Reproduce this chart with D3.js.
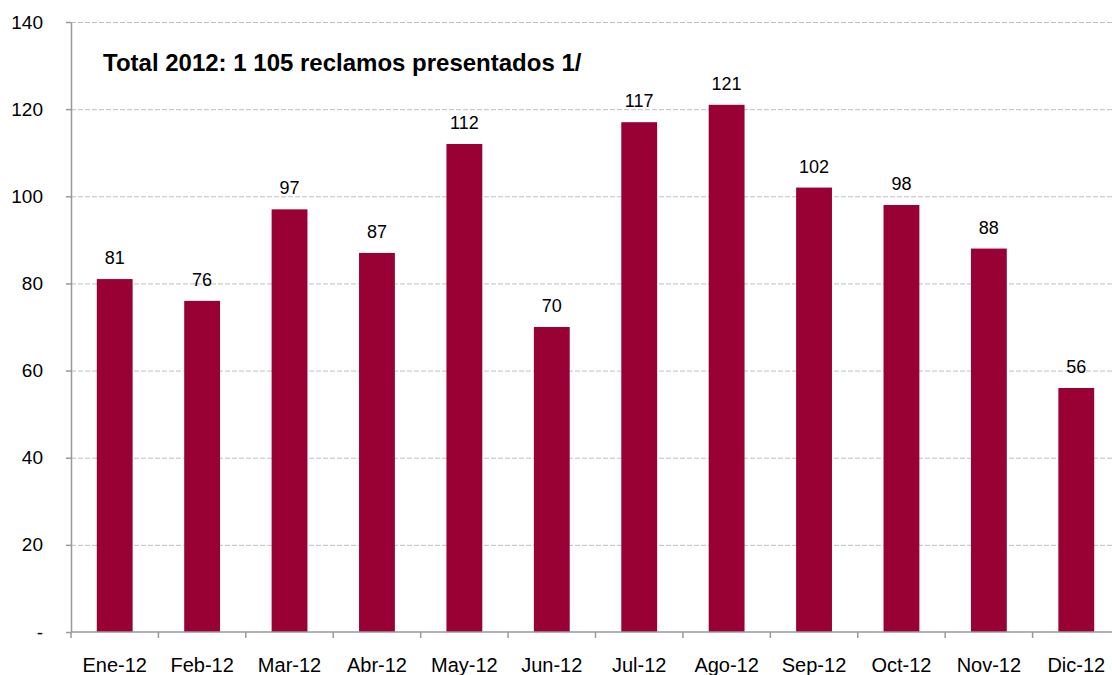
<!DOCTYPE html>
<html>
<head>
<meta charset="utf-8">
<script src="https://cdn.jsdelivr.net/npm/d3@7"></script>
<style>
  body { margin: 0; background: #fff; }
  svg { font-family: "Liberation Sans", Arial, sans-serif; }
  .grid line { stroke: #bfbfbf; stroke-dasharray: 5,2; }
  .grid path { display: none; }
  .axis path, .axis line { stroke: #999; stroke-width: 1.5; }
  .axis text { fill: #000; font-size: 19px; }
</style>
</head>
<body>
<svg width="1112" height="675"></svg>
<script>
var months = ["Ene-12", "Feb-12", "Mar-12", "Abr-12", "May-12", "Jun-12",
              "Jul-12", "Ago-12", "Sep-12", "Oct-12", "Nov-12", "Dic-12"];
var reclamos = [81, 76, 97, 87, 112, 70, 117, 121, 102, 98, 88, 56];
var yTicks = [0, 20, 40, 60, 80, 100, 120, 140];
var title = "Total 2012: 1 105 reclamos presentados 1/";

var svg = d3.select("svg"),
  margin = {top: 22, right: -8, bottom: 43, left: 71},
  width = +svg.attr("width") - margin.left - margin.right,
  height = +svg.attr("height") - margin.top - margin.bottom;

var data = months.map(function(m, i) {
  return {Month: m, Count: reclamos[i]};
});

var x = d3.scaleBand().range([0, width]).domain(months).paddingInner(0.59).paddingOuter(0.295),
  xb = d3.scaleBand().range([0, width]).domain(months),
  y = d3.scaleLinear().range([height, 0]).domain([0, 140]);

var g = svg.append("g")
  .attr("transform", "translate(" + margin.left + "," + margin.top + ")");

// dashed grid
g.append("g")
  .attr("class", "grid")
  .call(d3.axisLeft(y).tickValues(yTicks.slice(1)).tickSize(-width).tickFormat(""));

g.selectAll(".bar")
  .data(data)
  .enter()
  .append("rect")
  .attr("class", "bar")
  .attr("x", function(d) { return x(d.Month); })
  .attr("y", function(d) { return y(d.Count); })
  .attr("width", x.bandwidth())
  .attr("height", function(d) { return height - y(d.Count); })
  .attr("fill", "#990033");

g.selectAll(".label")
  .data(data)
  .enter()
  .append("text")
  .attr("class", "label")
  .attr("x", function(d) { return x(d.Month) + x.bandwidth() / 2; })
  .attr("y", function(d) { return y(d.Count) - 15; })
  .attr("text-anchor", "middle")
  .style("font-size", "18px")
  .text(function(d) { return d.Count; });

// y axis
var yAxis = g.append("g")
  .attr("class", "axis")
  .call(d3.axisLeft(y).tickValues(yTicks).tickSize(5).tickSizeOuter(0)
    .tickFormat(function(d) { return d === 0 ? "-" : d; }));
yAxis.selectAll("text").attr("x", -28);

// x axis: ticks at category boundaries
var xAxis = g.append("g")
  .attr("class", "axis")
  .attr("transform", "translate(0," + height + ")");
xAxis.append("line")
  .attr("x1", 0).attr("x2", width)
  .attr("y1", 0).attr("y2", 0);
xAxis.selectAll(".tick")
  .data(months)
  .enter()
  .append("line")
  .attr("x1", function(d) { return xb(d); })
  .attr("x2", function(d) { return xb(d); })
  .attr("y1", 0).attr("y2", 6);
xAxis.selectAll(".mlabel")
  .data(months)
  .enter()
  .append("text")
  .attr("x", function(d) { return xb(d) + xb.bandwidth() / 2; })
  .attr("y", 40)
  .attr("text-anchor", "middle")
  .style("font-size", "20px")
  .text(function(d) { return d; });

svg.append("text")
  .attr("x", 103)
  .attr("y", 71)
  .style("font-size", "24px")
  .style("font-weight", "bold")
  .text(title);
</script>
</body>
</html>
